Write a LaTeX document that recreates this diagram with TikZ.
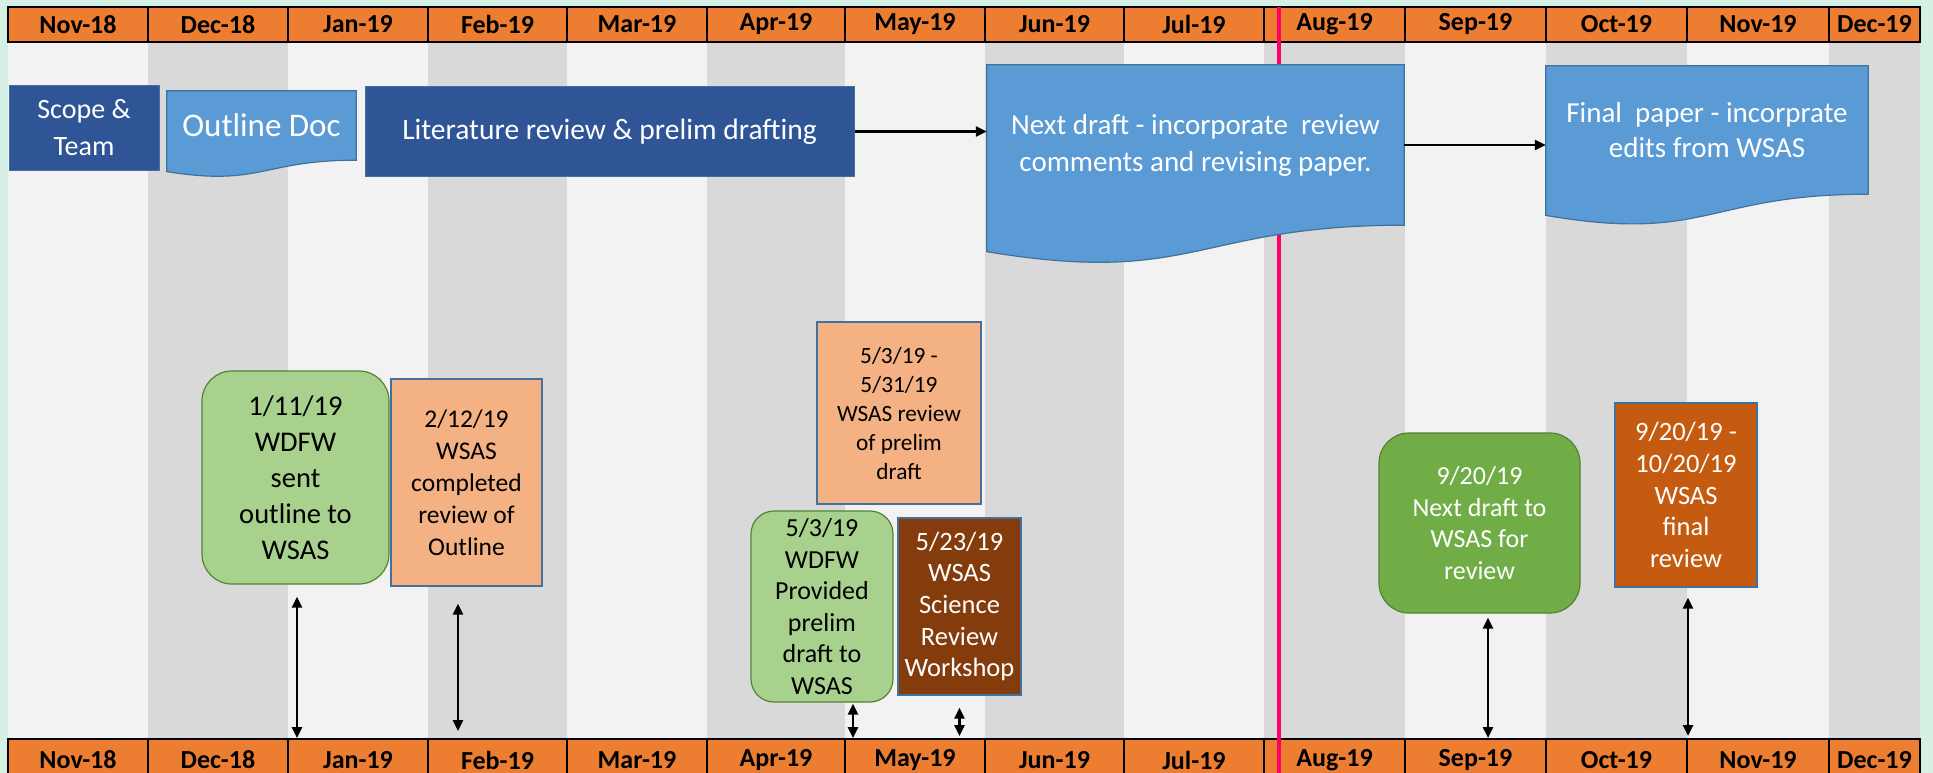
\documentclass[tikz,border=0pt]{standalone}
\usepackage{fontspec}
\setmainfont{Carlito}
\usepackage{xcolor}
\usepackage{tikz}
\usetikzlibrary{positioning,calc,arrows.meta}
\definecolor{mintBg}{RGB}{213,241,228}
\definecolor{stripeLight}{RGB}{242,242,242}
\definecolor{stripeDark}{RGB}{217,217,217}
\definecolor{monthOrange}{RGB}{237,125,49}
\definecolor{phaseBlue}{RGB}{47,85,151}
\definecolor{docBlue}{RGB}{91,155,213}
\definecolor{edgeBlue}{RGB}{65,113,156}
\definecolor{paleGreen}{RGB}{169,209,142}
\definecolor{midGreen}{RGB}{112,173,71}
\definecolor{edgeGreen}{RGB}{84,130,53}
\definecolor{paleOrange}{RGB}{244,177,131}
\definecolor{rustOrange}{RGB}{197,90,17}
\definecolor{darkBrown}{RGB}{132,60,12}
\definecolor{todayPink}{RGB}{255,0,102}
\pgfdeclarelayer{grid}
\pgfdeclarelayer{docs}
\pgfsetlayers{grid,docs,main}
\tikzset{
    monthcell/.style={
        draw=black,
        line width=2pt,
        fill=monthOrange,
        inner sep=0pt,
        minimum height=35pt,
        font=\fontsize{26}{30}\selectfont\bfseries
    },
    phase/.style={
        draw=edgeBlue,
        line width=1pt,
        fill=phaseBlue,
        text=white,
        align=center,
        inner sep=0pt
    },
    docnode/.style={
        text=white,
        align=center,
        inner sep=0pt
    },
    docshape/.style={
        fill=docBlue,
        draw=edgeBlue,
        line width=1.2pt
    },
    event/.style={
        draw=edgeGreen,
        line width=1.2pt,
        fill=paleGreen,
        align=center,
        inner sep=0pt
    },
    review/.style={
        draw=edgeBlue,
        line width=1.2pt,
        fill=paleOrange,
        align=center,
        inner sep=0pt
    },
    vlink/.style={
        {Triangle[length=11pt,width=10pt]}-{Triangle[length=11pt,width=10pt]},
        line width=2.5pt
    },
    hlink/.style={
        -{Triangle[length=11pt,width=10pt]},
        line width=2.5pt
    }
}

\begin{document}
\begin{tikzpicture}[x=1pt, y=-1pt]
    \useasboundingbox (0,0) rectangle (1933,773);

    \begin{pgfonlayer}{grid}
        \fill[mintBg] (0,0) rectangle (1933,773);
        % month columns
        \foreach \xa/\xb [count=\i] in {8/148,148/288,288/428,428/567,567/707,707/845,845/985,985/1124,1124/1264,1264/1405,1405/1546,1546/1687,1687/1829,1829/1920}{
            \ifodd\i \def\sc{stripeLight}\else \def\sc{stripeDark}\fi
            \fill[\sc] (\xa,42) rectangle (\xb,739);
        }
        \foreach \m/\xa/\xb [count=\i] in {Nov-18/8/148,Dec-18/148/288,Jan-19/288/428,Feb-19/428/567,Mar-19/567/707,Apr-19/707/845,May-19/845/985,Jun-19/985/1124,Jul-19/1124/1264,Aug-19/1264/1405,Sep-19/1405/1546,Oct-19/1546/1687,Nov-19/1687/1829,Dec-19/1829/1920}{
            \pgfmathsetmacro\w{\xb-\xa}
            \node[monthcell, minimum width=\w pt] (t\i) at ({(\xa+\xb)/2},24.5) {\m};
            \node[monthcell, minimum width=\w pt, minimum height=42pt] (b\i) at ({(\xa+\xb)/2},760) {\m};
        }
        % today line
        \draw[todayPink, line width=4pt] (1279,7) -- (1279,781);
    \end{pgfonlayer}

    % phases
    \node[phase, minimum width=150pt, minimum height=84pt, font=\fontsize{28}{37}\selectfont] (scope) at (84,128) {Scope \&\\Team};
    \node[docnode, minimum width=189pt, minimum height=69pt, font=\fontsize{33}{40}\selectfont] (outline) at (261.5,125.5) {Outline Doc};
    \node[phase, minimum width=489pt, minimum height=89pt, font=\fontsize{29.5}{36}\selectfont] (litrev) at (609.5,131.5) {Literature review \& prelim drafting};
    \node[docnode, minimum width=417pt, minimum height=160pt, font=\fontsize{29}{37}\selectfont] (nextdraft) at (1195.5,145) {Next draft - incorporate\ \ review\\comments and revising paper.};
    \node[docnode, minimum width=322pt, minimum height=128pt, font=\fontsize{29}{35}\selectfont] (finalpaper) at (1707,130) {Final\ \ paper - incorprate\\edits from WSAS};

    \begin{pgfonlayer}{docs}
        \foreach \d in {outline,nextdraft,finalpaper}
            \draw[docshape] (\d.north west) -- (\d.north east) -- (\d.south east)
                .. controls (\d.south) and ($(\d.south)!-0.381!(\d.north)$) .. ($(\d.south west)!-0.165!(\d.north west)$) -- cycle;
    \end{pgfonlayer}

    \draw[hlink] (litrev.east) -- (litrev.east -| nextdraft.west);
    \draw[hlink] (nextdraft.east) -- (nextdraft.east -| finalpaper.west);

    % milestones
    \node[event, rounded corners=30pt, minimum width=187pt, minimum height=213pt, font=\fontsize{28.5}{36}\selectfont] (wdfwsent) at (295.5,477.5) {1/11/19\\WDFW\\sent\\outline to\\WSAS};
    \node[review, minimum width=151pt, minimum height=207pt, font=\fontsize{25.5}{32}\selectfont] (outlinerev) at (466.5,482.5) {2/12/19\\WSAS\\completed\\review of\\Outline};
    \node[review, minimum width=164pt, minimum height=182pt, font=\fontsize{23.3}{29}\selectfont] (prelimrev) at (899,413) {5/3/19 -\\5/31/19\\WSAS review\\of prelim\\draft};
    \node[event, rounded corners=23pt, minimum width=142pt, minimum height=191pt, font=\fontsize{26}{31.6}\selectfont] (prelimsent) at (822,606.5) {5/3/19\\WDFW\\Provided\\prelim\\draft to\\WSAS};
    \node[review, fill=darkBrown, text=white, minimum width=123pt, minimum height=177pt, font=\fontsize{26.5}{31.7}\selectfont] (workshop) at (959.5,606.5) {5/23/19\\WSAS\\Science\\Review\\Workshop};
    \node[event, fill=midGreen, text=white, rounded corners=30pt, minimum width=201pt, minimum height=180pt, font=\fontsize{26}{31.7}\selectfont] (nextsent) at (1479.5,523) {9/20/19\\Next draft to\\WSAS for\\review};
    \node[review, fill=rustOrange, text=white, minimum width=142pt, minimum height=184pt, font=\fontsize{26.5}{31.7}\selectfont] (finalrev) at (1686,495) {9/20/19 -\\10/20/19\\WSAS\\final\\review};

    % links down to the month bar
    \draw[vlink] ([xshift=1.5pt,yshift=-12pt]wdfwsent.south) -- ([xshift=1.5pt]wdfwsent.south |- b3.north);
    \draw[vlink] ([xshift=-8.5pt,yshift=-17pt]outlinerev.south) -- ([xshift=-8.5pt,yshift=7pt]outlinerev.south |- b4.north);
    \draw[vlink] ([xshift=31pt,yshift=-1pt]prelimsent.south) -- ([xshift=31pt]prelimsent.south |- b7.north);
    \draw[vlink] ([yshift=-12pt]workshop.south) -- ([yshift=2pt]workshop.south |- b7.north);
    \draw[vlink] ([xshift=8.5pt,yshift=-4pt]nextsent.south) -- ([xshift=8.5pt]nextsent.south |- b11.north);
    \draw[vlink] ([xshift=2pt,yshift=-10pt]finalrev.south) -- ([xshift=2pt,yshift=2pt]finalrev.south |- b13.north);
\end{tikzpicture}
\end{document}
